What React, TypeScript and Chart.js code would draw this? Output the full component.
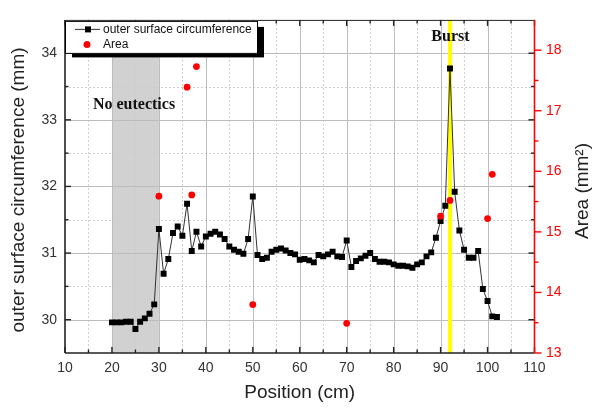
import { useEffect, useRef } from 'react';
import { Chart, registerables } from 'chart.js';

Chart.register(...registerables);

// Measured outer surface circumference along the tube (mm)
const positions = [
  20, 21, 22, 23, 24, 25, 26, 27, 28, 29, 30, 31, 32, 33, 34, 35, 36, 37, 38, 39, 40,
  41, 42, 43, 44, 45, 46, 47, 48, 49, 50, 51, 52, 53, 54, 55, 56, 57, 58, 59, 60, 61,
  62, 63, 64, 65, 66, 67, 68, 69, 70, 71, 72, 73, 74, 75, 76, 77, 78, 79, 80, 81, 82,
  83, 84, 85, 86, 87, 88, 89, 90, 91, 92, 93, 94, 95, 96, 97, 98, 99, 100, 101, 102,
];
const circumference = [
  29.96, 29.96, 29.96, 29.97, 29.97, 29.86, 29.97, 30.02, 30.09, 30.23, 31.36, 30.69,
  30.91, 31.3, 31.4, 31.26, 31.74, 31.03, 31.32, 31.1, 31.25, 31.29, 31.32, 31.28,
  31.21, 31.1, 31.05, 31.02, 30.99, 31.21, 31.85, 30.97, 30.91, 30.93, 31.02, 31.05,
  31.07, 31.04, 31.0, 30.98, 30.9, 30.91, 30.89, 30.86, 30.97, 30.95, 30.98, 31.02,
  30.95, 30.94, 31.19, 30.79, 30.88, 30.92, 30.96, 31.0, 30.91, 30.87, 30.87, 30.86,
  30.83, 30.81, 30.81, 30.8, 30.78, 30.83, 30.86, 30.95, 31.01, 31.23, 31.48, 31.71,
  33.77, 31.92, 31.34, 31.05, 30.93, 30.93, 31.03, 30.46, 30.28, 30.05, 30.04,
];

// Cross-section area samples (mm²)
const areaPositions = [30, 36, 37, 38, 50, 70, 90, 92, 100, 101];
const areaValues = [15.59, 17.39, 15.61, 17.73, 13.8, 13.49, 15.26, 15.52, 15.22, 15.95];

// Axis ticks
const xTicks = [10, 20, 30, 40, 50, 60, 70, 80, 90, 100, 110];
const xMinorTicks = [15, 25, 35, 45, 55, 65, 75, 85, 95, 105];
const leftTicks = [30, 31, 32, 33, 34];
const leftMinorTicks = [30.5, 31.5, 32.5, 33.5];
const rightTicks = [13, 14, 15, 16, 17, 18];
const rightMinorTicks = [13.5, 14.5, 15.5, 16.5, 17.5];

// Marked regions
const eutecticFreeZone = [20, 30];
const burstPosition = 92;
const noEutecticsLabel = { x: 24.7, y: 33.23 };
const burstLabel = { x: 92.1, y: 34.25 };

const SANS = "'Liberation Sans', Arial, sans-serif";
const SERIF = "'Liberation Serif', 'Times New Roman', serif";

const decorations = {
  id: 'decorations',
  beforeDatasetsDraw(chart: any) {
    const { ctx, chartArea: a, scales } = chart;
    const x = scales.x;
    const y = scales.y;
    ctx.save();

    // shaded zone
    const b0 = x.getPixelForValue(eutecticFreeZone[0]);
    const b1 = x.getPixelForValue(eutecticFreeZone[1]);
    ctx.fillStyle = '#d1d1d1';
    ctx.fillRect(b0, a.top, b1 - b0, a.bottom - a.top);

    const vline = (px: number) => {
      const p = Math.round(px) + 0.5;
      ctx.beginPath();
      ctx.moveTo(p, a.top);
      ctx.lineTo(p, a.bottom);
      ctx.stroke();
    };
    const hline = (py: number) => {
      const p = Math.round(py) + 0.5;
      ctx.beginPath();
      ctx.moveTo(a.left, p);
      ctx.lineTo(a.right, p);
      ctx.stroke();
    };

    // minor dotted grid
    ctx.lineWidth = 1;
    ctx.strokeStyle = '#cdcdcd';
    ctx.setLineDash([2, 2]);
    xMinorTicks.forEach((v) => vline(x.getPixelForValue(v)));
    leftMinorTicks.forEach((v) => hline(y.getPixelForValue(v)));

    // major grid
    ctx.setLineDash([]);
    ctx.strokeStyle = '#bcbcbc';
    xTicks.slice(1, -1).forEach((v) => vline(x.getPixelForValue(v)));
    leftTicks.forEach((v) => hline(y.getPixelForValue(v)));

    // burst marker
    const bx = x.getPixelForValue(burstPosition);
    ctx.fillStyle = '#ffff00';
    ctx.fillRect(bx - 2, a.top, 4, a.bottom - a.top);
    ctx.restore();
  },
  afterDraw(chart: any) {
    const { ctx, chartArea: a, scales } = chart;
    const x = scales.x;
    const y = scales.y;
    const y1 = scales.y1;
    ctx.save();

    const seg = (x0: number, y0: number, x1: number, y1p: number) => {
      ctx.beginPath();
      ctx.moveTo(x0, y0);
      ctx.lineTo(x1, y1p);
      ctx.stroke();
    };

    // frame
    ctx.strokeStyle = '#222';
    ctx.lineWidth = 1;
    seg(a.left, a.top + 0.5, a.right, a.top + 0.5);
    ctx.lineWidth = 1.6;
    seg(a.left, a.top, a.left, a.bottom);
    seg(a.left, a.bottom, a.right, a.bottom);

    // inward ticks on bottom / top
    ctx.lineWidth = 1.4;
    xTicks.forEach((v) => {
      const p = x.getPixelForValue(v);
      seg(p, a.bottom, p, a.bottom - 6);
      seg(p, a.top, p, a.top + 6);
    });
    xMinorTicks.forEach((v) => {
      const p = x.getPixelForValue(v);
      seg(p, a.bottom, p, a.bottom - 3.5);
      seg(p, a.top, p, a.top + 3.5);
    });
    // inward ticks on left, mirrored on the right
    leftTicks.forEach((v) => {
      const p = y.getPixelForValue(v);
      seg(a.left, p, a.left + 6, p);
      seg(a.right, p, a.right - 6, p);
    });
    leftMinorTicks.forEach((v) => {
      const p = y.getPixelForValue(v);
      seg(a.left, p, a.left + 3.5, p);
      seg(a.right, p, a.right - 3.5, p);
    });

    // right axis (red) with outward ticks
    ctx.strokeStyle = '#ff0000';
    ctx.lineWidth = 1.6;
    seg(a.right, a.top, a.right, a.bottom);
    ctx.lineWidth = 1.4;
    rightTicks.forEach((v) => {
      const p = y1.getPixelForValue(v);
      seg(a.right, p, a.right + 7, p);
    });
    rightMinorTicks.forEach((v) => {
      const p = y1.getPixelForValue(v);
      seg(a.right, p, a.right + 4, p);
    });

    // annotations
    ctx.fillStyle = '#111';
    ctx.font = `bold 16px ${SERIF}`;
    ctx.textAlign = 'center';
    ctx.textBaseline = 'middle';
    ctx.fillText('No eutectics', x.getPixelForValue(noEutecticsLabel.x), y.getPixelForValue(noEutecticsLabel.y));
    ctx.fillText('Burst', x.getPixelForValue(burstLabel.x), y.getPixelForValue(burstLabel.y));

    // vertical axis titles
    ctx.font = `19px ${SANS}`;
    ctx.fillStyle = '#222';
    ctx.save();
    ctx.translate(18.4, 190);
    ctx.rotate(-Math.PI / 2);
    ctx.fillText('outer surface circumference (mm)', 0, 0);
    ctx.restore();
    ctx.save();
    ctx.translate(583, 191);
    ctx.rotate(-Math.PI / 2);
    ctx.fillText('Area (mm²)', 0, 0);
    ctx.restore();

    // legend with drop shadow
    const lx = a.left;
    const ly = a.top + 1;
    const lw = 193;
    const lh = 33;
    ctx.fillStyle = '#000';
    ctx.fillRect(lx + 7, ly + 6, lw - 1, lh - 2.5);
    ctx.fillStyle = '#fff';
    ctx.fillRect(lx, ly, lw, lh);
    ctx.strokeStyle = '#000';
    ctx.lineWidth = 1;
    ctx.strokeRect(lx + 0.5, ly + 0.5, lw - 1, lh - 1);

    ctx.strokeStyle = '#333';
    ctx.lineWidth = 1;
    seg(lx + 10, ly + 8.5, lx + 35, ly + 8.5);
    ctx.fillStyle = '#000';
    ctx.fillRect(lx + 20, ly + 5.5, 6, 6);
    ctx.fillStyle = '#ff0000';
    ctx.beginPath();
    ctx.arc(lx + 22, ly + 23.5, 3.5, 0, Math.PI * 2);
    ctx.fill();

    ctx.fillStyle = '#111';
    ctx.font = `12px ${SANS}`;
    ctx.textAlign = 'left';
    ctx.fillText('outer surface circumference', lx + 38, ly + 8.5);
    ctx.fillText('Area', lx + 38, ly + 23.5);
    ctx.restore();
  },
};

export default function App() {
  const canvasRef = useRef<HTMLCanvasElement | null>(null);

  useEffect(() => {
    const canvas = canvasRef.current;
    if (!canvas) return;
    const chart = new Chart(canvas, {
      type: 'line',
      data: {
        datasets: [
          {
            label: 'outer surface circumference',
            data: positions.map((p, i) => ({ x: p, y: circumference[i] })),
            yAxisID: 'y',
            borderColor: '#333',
            borderWidth: 1,
            tension: 0,
            pointStyle: 'rect',
            pointRadius: 4.2,
            pointBackgroundColor: '#000',
            pointBorderWidth: 0,
            order: 2,
          },
          {
            label: 'Area',
            data: areaPositions.map((p, i) => ({ x: p, y: areaValues[i] })),
            yAxisID: 'y1',
            showLine: false,
            pointStyle: 'circle',
            pointRadius: 3.4,
            pointBackgroundColor: '#ff0000',
            pointBorderWidth: 0,
            order: 1,
          },
        ],
      },
      options: {
        animation: false,
        responsive: false,
        layout: { padding: { top: 8, left: 0, right: 0, bottom: 0 } },
        plugins: { legend: { display: false }, tooltip: { enabled: false } },
        scales: {
          x: {
            type: 'linear',
            position: 'bottom',
            min: 10,
            max: 110,
            afterBuildTicks: (s: any) => {
              s.ticks = xTicks.map((v) => ({ value: v }));
            },
            afterFit: (s: any) => {
              s.height = 58;
            },
            grid: { display: false, drawTicks: false },
            border: { display: false },
            ticks: { font: { family: SANS, size: 14 }, color: '#333', padding: 7, maxRotation: 0 },
            title: {
              display: true,
              text: 'Position (cm)',
              font: { family: SANS, size: 19 },
              color: '#222',
              padding: { top: 0, bottom: 7 },
            },
          },
          y: {
            type: 'linear',
            position: 'left',
            min: 29.5,
            max: 34.5,
            afterBuildTicks: (s: any) => {
              s.ticks = leftTicks.map((v) => ({ value: v }));
            },
            afterFit: (s: any) => {
              s.width = 65;
            },
            grid: { display: false, drawTicks: false },
            border: { display: false },
            ticks: { font: { family: SANS, size: 14 }, color: '#333', padding: 8 },
          },
          y1: {
            type: 'linear',
            position: 'right',
            min: 13,
            max: 18.5,
            afterBuildTicks: (s: any) => {
              s.ticks = rightTicks.map((v) => ({ value: v }));
            },
            afterFit: (s: any) => {
              s.width = 57.5;
            },
            grid: { display: false, drawTicks: false },
            border: { display: false },
            ticks: { font: { family: SANS, size: 14 }, color: '#ff0000', padding: 11.5 },
          },
        },
      },
      plugins: [decorations],
    });
    return () => chart.destroy();
  }, []);

  return (
    <div style={{ position: 'absolute', left: 0, top: 0, width: 592, height: 411, background: '#fff' }}>
      <canvas ref={canvasRef} width={592} height={411} style={{ display: 'block' }} />
    </div>
  );
}
